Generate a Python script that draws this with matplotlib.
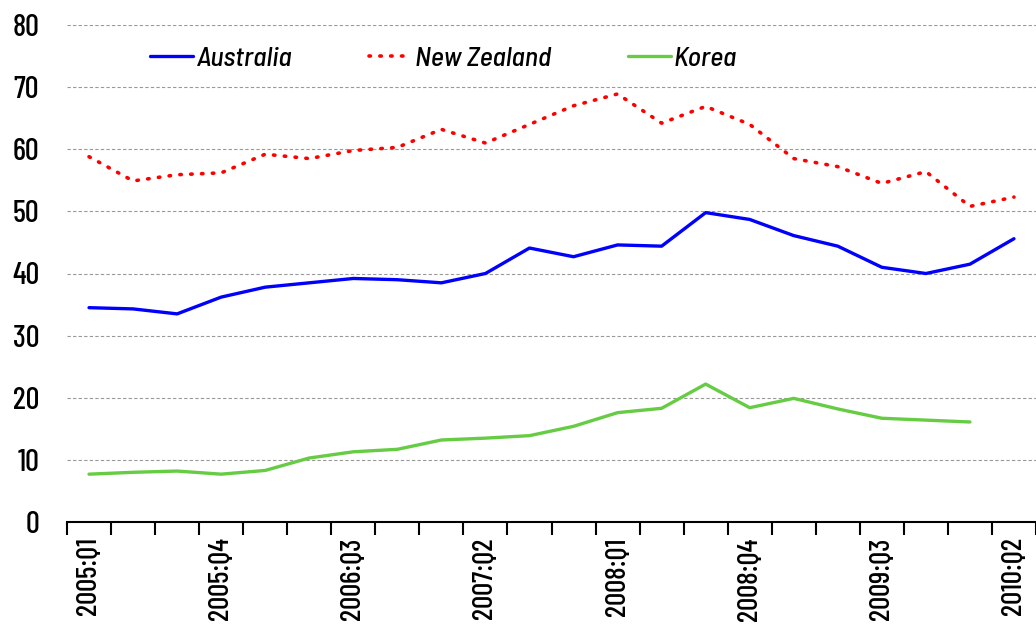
import numpy as np
import matplotlib
matplotlib.use('Agg')
from matplotlib import pyplot as plt

quarters = ['2005:Q1', '2005:Q2', '2005:Q3', '2005:Q4', '2006:Q1', '2006:Q2', '2006:Q3', '2006:Q4',
            '2007:Q1', '2007:Q2', '2007:Q3', '2007:Q4', '2008:Q1', '2008:Q2', '2008:Q3', '2008:Q4',
            '2009:Q1', '2009:Q2', '2009:Q3', '2009:Q4', '2010:Q1', '2010:Q2']

australia = [34.5, 34.3, 33.5, 36.2, 37.8, 38.5, 39.2, 39.0, 38.5, 40.0, 44.1, 42.7,
             44.6, 44.4, 49.8, 48.7, 46.1, 44.4, 41.0, 40.0, 41.5, 45.6]
new_zealand = [58.8, 54.9, 55.9, 56.2, 59.2, 58.5, 59.8, 60.3, 63.2, 61.0, 64.0, 67.0,
               68.9, 64.2, 66.9, 64.0, 58.5, 57.2, 54.5, 56.4, 50.8, 52.3]
korea = [7.7, 8.0, 8.2, 7.7, 8.3, 10.3, 11.3, 11.7, 13.2, 13.5, 13.9, 15.4,
         17.6, 18.3, 22.2, 18.4, 19.9, 18.2, 16.7, 16.4, 16.1, np.nan]

plt.rcParams['font.family'] = ['Barlow Condensed', 'DejaVu Sans']
plt.rcParams['font.weight'] = 500

fig = plt.figure(figsize=(10.36, 6.24), dpi=100)
ax = fig.add_axes([67/1036, 1 - 522/624, 1 - 67/1036, (522 - 25)/624])

x = np.arange(len(quarters))
ax.plot(x, australia, color='#0000FF', lw=2.4, label='Australia', solid_capstyle='round')
ax.plot(x, new_zealand, color='#FF0000', lw=2.6, linestyle=(0, (0.4, 2.6)),
        dash_capstyle='round', label='New Zealand')
ax.plot(x, korea, color='#66CC44', lw=2.4, label='Korea', solid_capstyle='round')

ax.set_xlim(-0.5, len(quarters) - 0.5)
ax.set_ylim(0, 80)
ax.set_yticks(range(0, 81, 10))
ax.yaxis.grid(True, color='#999999', linestyle=(0, (3, 2)), lw=0.8)
ax.set_axisbelow(True)

ax.set_xticks(np.arange(-0.5, len(quarters), 1.0))
ax.set_xticklabels([])
ax.set_xticks(x[::3], minor=True)
ax.set_xticklabels(quarters[::3], minor=True, rotation=90, fontsize=21)
ax.tick_params(axis='x', which='major', length=9, width=1.5, direction='out')
ax.tick_params(axis='x', which='minor', length=0, pad=11)
ax.tick_params(axis='y', length=0, labelsize=22, pad=20)

for s in ['left', 'right', 'top']:
    ax.spines[s].set_visible(False)
ax.spines['bottom'].set_linewidth(1.5)

leg = ax.legend(loc='center left', bbox_to_anchor=(0.086, 0.932), ncol=3, frameon=False,
                prop={'family': 'Barlow Semi Condensed', 'style': 'italic', 'size': 20, 'weight': 500},
                handlelength=1.55, columnspacing=2.75, handletextpad=0.12, borderpad=0,
                borderaxespad=0)

fig.savefig('out.png', dpi=100)
